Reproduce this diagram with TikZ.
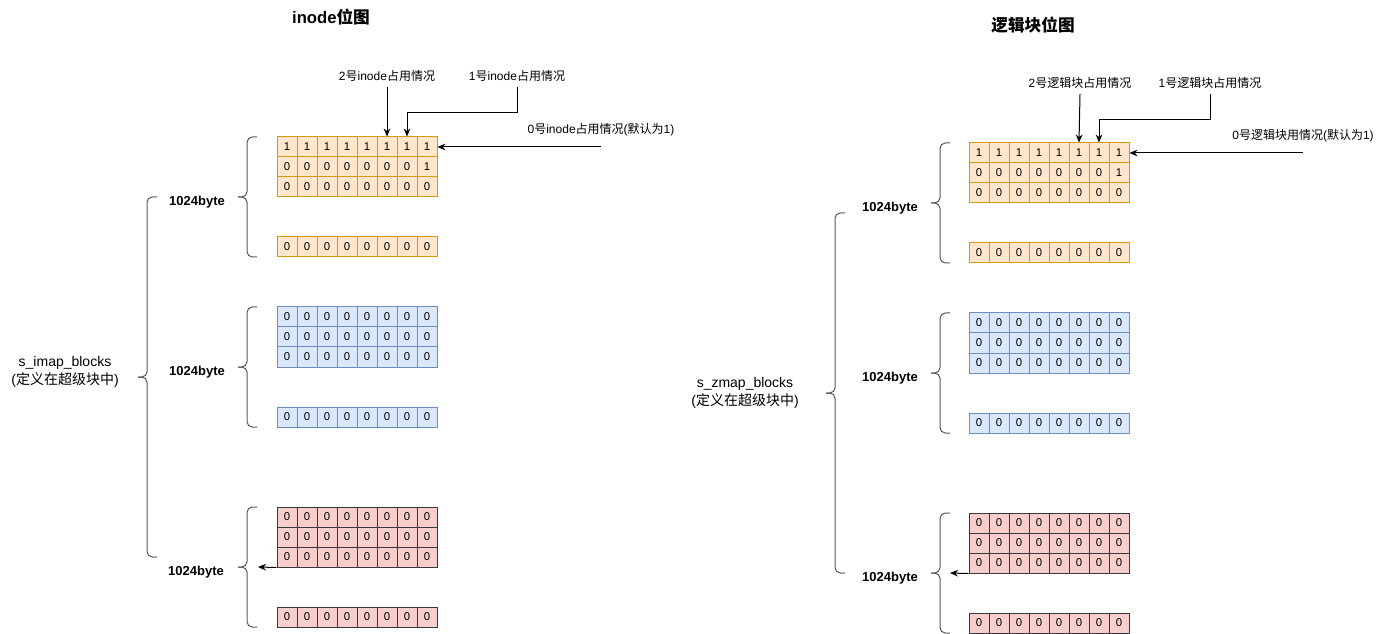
\documentclass[tikz,border=0pt]{standalone}
\usepackage{fontspec}
\setmainfont{Liberation Sans}
\newfontfamily\cjk{Noto Sans CJK SC}
\usetikzlibrary{arrows.meta}
\definecolor{ofill}{HTML}{FFE6CC}
\definecolor{oline}{HTML}{D79B00}
\definecolor{bfill}{HTML}{DAE8FC}
\definecolor{bline}{HTML}{6C8EBF}
\definecolor{rfill}{HTML}{F8CECC}
\definecolor{rline}{HTML}{36393D}
\newcommand{\zh}[1]{{\cjk #1}}
% curly bracket: right end x, top y, bottom y
\newcommand{\curly}[3]{%
  \draw[curly] (#1,#2) -| ({#1-10},{(#2+#3)/2}) -- ({#1-19},{(#2+#3)/2});
  \draw[curly] (#1,#3) -| ({#1-10},{(#2+#3)/2}) -- ({#1-19},{(#2+#3)/2});}

\begin{document}
\begin{tikzpicture}[x=0.75pt,y=-0.75pt,
    cell/.style={draw,minimum width=15pt,minimum height=15pt,inner sep=0pt,line width=0.75pt,font=\fontsize{8.5}{10}\selectfont},
    ocell/.style={cell,fill=ofill,draw=oline},
    bcell/.style={cell,fill=bfill,draw=bline},
    rcell/.style={cell,fill=rfill,draw=rline},
    note/.style={font=\fontsize{9}{10.5}\selectfont,inner sep=4pt},
    maplabel/.style={font=\fontsize{10.5}{13}\selectfont,align=center},
    size/.style={font=\fontsize{9.75}{12}\selectfont\bfseries},
    title/.style={font=\fontsize{12.5}{15}\selectfont\bfseries},
    arr/.style={-{Stealth[length=6pt,width=5pt]},line width=0.75pt},
    curly/.style={draw=black!65,line width=0.75pt,rounded corners=4pt}
  ]
  \useasboundingbox (0,0) rectangle (1391,634);

  % bit grids
  \foreach \side/\px/\py in {l/0/0,r/692/6}
    \foreach \blk/\dy/\sty in {a/0/ocell,b/170/bcell,c/370/rcell}
      \foreach \r in {0,1,2,5}
        \foreach \c in {0,...,7}{
          \pgfmathtruncatemacro\v{and(\dy==0,or(\r==0,and(\r==1,\c==7)))}
          \node[\sty] (\side\blk\r\c) at ({\px+287+20*\c},{\py+\dy+147+20*\r}) {\v};
        }

  % braces
  \curly{257}{137}{257}
  \curly{257}{307}{427}
  \curly{257}{507}{627}
  \curly{157}{197}{557}
  \curly{950}{143}{263}
  \curly{950}{313}{433}
  \curly{950}{513}{633}
  \curly{845}{213}{573}

  % left: inode bitmap
  \node[title] (ltitle) at (331,17) {inode\zh{位图}};
  \node[note] (l2) at (387,76) {2\zh{号}inode\zh{占用情况}};
  \node[note] (l1) at (517,76) {1\zh{号}inode\zh{占用情况}};
  \node[note] (l0) at (601,130) {0\zh{号}inode\zh{占用情况}(\zh{默认为}1)};
  \draw[arr] (l2.south) -- (la05.north);
  \draw[arr] (l1.south) -- ++(0,25) -| (la06.north);
  \draw[arr] (l0.south |- la07.east) -- (la07.east);
  \node[size] (lsa) at (197,202) {1024byte};
  \node[size] (lsb) at (197,372) {1024byte};
  \node[size] (lsc) at (196,572) {1024byte};
  \node[maplabel] (lmap) at (65,372) {s\_imap\_blocks\\(\zh{定义在超级块中})};
  \coordinate (lctip) at (258,567);
  \draw[arr] (lc20.south west) -- (lctip);

  % right: block bitmap
  \node[title] (rtitle) at (1033,25) {\zh{逻辑块位图}};
  \node[note] (r2) at (1080,83) {2\zh{号逻辑块占用情况}};
  \node[note] (r1) at (1210,83) {1\zh{号逻辑块占用情况}};
  \node[note] (r0) at (1303,136) {0\zh{号逻辑块用情况}(\zh{默认为}1)};
  \draw[arr] (r2.south) -- (ra05.north);
  \draw[arr] (r1.south) -- ++(0,25) -| (ra06.north);
  \draw[arr] (r0.south |- ra07.east) -- (ra07.east);
  \node[size] (rsa) at (890,208) {1024byte};
  \node[size] (rsb) at (890,378) {1024byte};
  \node[size] (rsc) at (890,578) {1024byte};
  \node[maplabel] (rmap) at (745,393) {s\_zmap\_blocks\\(\zh{定义在超级块中})};
  \coordinate (rctip) at (950,573);
  \draw[arr] (rc20.south west) -- (rctip);
\end{tikzpicture}
\end{document}
